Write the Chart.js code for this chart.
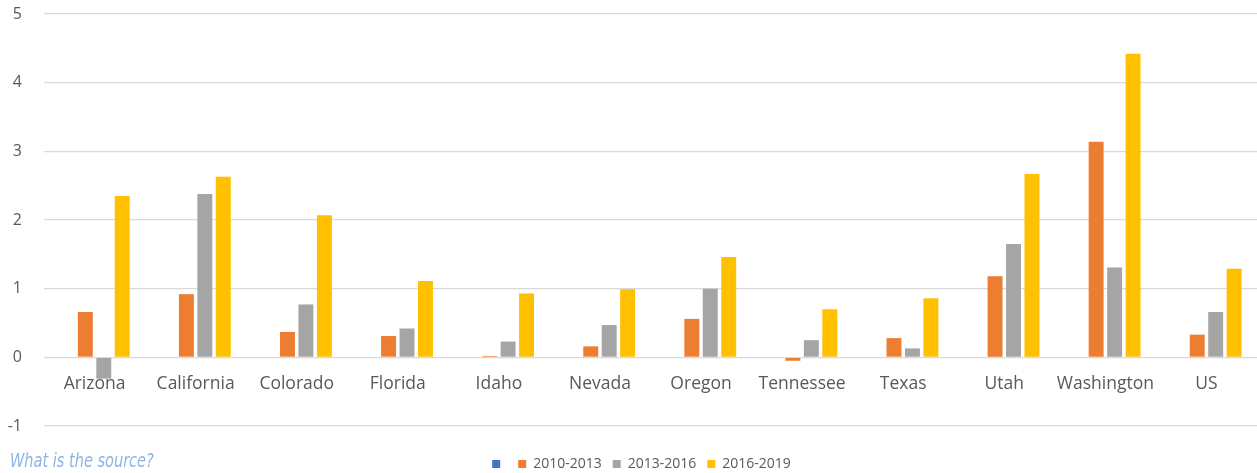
<!DOCTYPE html>
<html>
<head>
<meta charset="utf-8">
<script src="https://cdn.jsdelivr.net/npm/chart.js@4.4.0/dist/chart.umd.min.js"></script>
<style>
  body{margin:0;background:#fff;}
  #wrap{position:relative;width:1257px;height:473px;}
  #note{position:absolute;left:10px;top:449px;font-family:"DejaVu Sans Condensed","DejaVu Sans";font-style:italic;font-size:19px;color:#8eb4e3;transform:scaleX(0.85);transform-origin:left top;white-space:nowrap;}
</style>
</head>
<body>
<div id="wrap">
  <canvas id="chart" width="1257" height="473"></canvas>
  <div id="note">What is the source?</div>
</div>
<script>
var categories=["Arizona","California","Colorado","Florida","Idaho","Nevada","Oregon","Tennessee","Texas","Utah","Washington","US"];
var seriesNames=["","2010-2013","2013-2016","2016-2019"];
var blank=[0,0,0,0,0,0,0,0,0,0,0,0];
var p2010=[0.66,0.92,0.37,0.31,0.02,0.16,0.56,-0.05,0.28,1.18,3.14,0.33];
var p2013=[-0.31,2.38,0.77,0.42,0.23,0.47,1.0,0.25,0.13,1.65,1.31,0.66];
var p2016=[2.35,2.63,2.07,1.11,0.93,0.99,1.46,0.70,0.86,2.67,4.42,1.29];
var yTicks=[-1,0,1,2,3,4,5];
var colors=["#4472C4","#ED7D31","#A5A5A5","#FFC000"];

// axis text drawn by hand: category names under the zero line, values at far left
var axisText={
  id:'axisText',
  afterDraw:function(chart){
    var c=chart.ctx,x=chart.scales.x,y=chart.scales.y;
    var y0=y.getPixelForValue(0);
    c.save();
    c.fillStyle='#595959';
    c.textBaseline='middle';
    c.font='17.5px "Open Sans"';
    c.textAlign='center';
    for(var i=0;i<categories.length;i++){
      c.fillText(categories[i],x.getPixelForValue(i),y0+27);
    }
    c.font='16px "Open Sans"';
    c.textAlign='right';
    for(var j=0;j<yTicks.length;j++){
      c.fillText(String(yTicks[j]),22,y.getPixelForValue(yTicks[j]));
    }
    c.restore();
  }
};

var ctx=document.getElementById("chart").getContext("2d");
var allData=[blank,p2010,p2013,p2016];
var sets=[];
for(var i=0;i<allData.length;i++){
  sets.push({
    label:seriesNames[i],
    data:allData[i],
    backgroundColor:colors[i],
    borderWidth:0,
    barPercentage:0.81,
    categoryPercentage:0.73
  });
}
new Chart(ctx,{
  type:'bar',
  data:{labels:categories,datasets:sets},
  plugins:[axisText],
  options:{
    responsive:false,
    animation:false,
    layout:{padding:{top:14,right:0,bottom:-8,left:26}},
    plugins:{
      legend:{
        position:'bottom',
        labels:{boxWidth:8,boxHeight:8,padding:11,color:'#595959',font:{family:'Open Sans',size:14}}
      },
      tooltip:{enabled:false}
    },
    scales:{
      x:{
        grid:{display:false},
        border:{display:false},
        ticks:{display:false},
        afterFit:function(s){s.height=20;}
      },
      y:{
        min:-1,max:5,
        afterBuildTicks:function(axis){axis.ticks=yTicks.map(function(v){return {value:v};});},
        afterFit:function(s){s.width=18;},
        grid:{color:'#d9d9d9',lineWidth:1.3,drawTicks:false},
        border:{display:false},
        ticks:{display:false}
      }
    }
  }
});
</script>
</body>
</html>
